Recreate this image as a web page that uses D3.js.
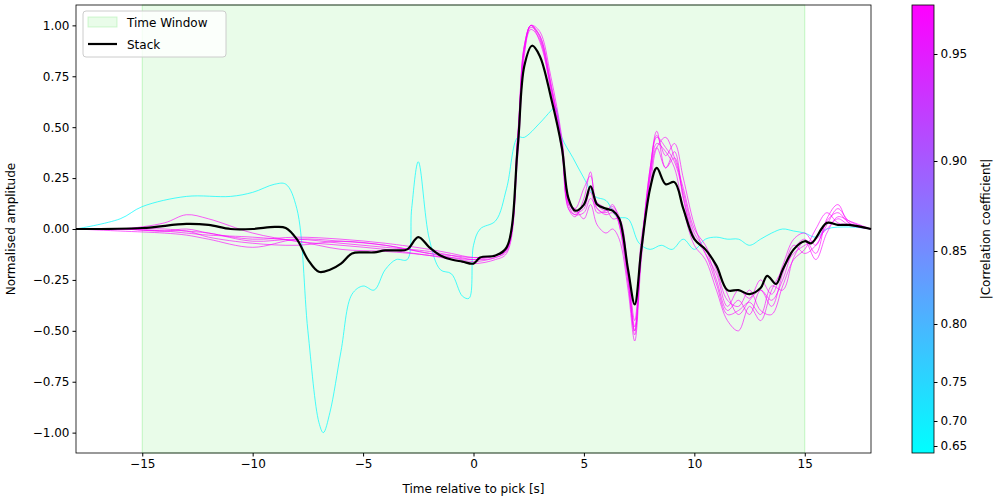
<!DOCTYPE html>
<html><head><meta charset="utf-8">
<script src="https://cdn.jsdelivr.net/npm/d3@7"></script>
<style>body{margin:0;background:#fff}text{font-family:"DejaVu Sans",sans-serif}</style>
</head><body><svg id="c" width="1000" height="500"></svg>
<script>
const stackT=[-18,-15,-13,-12,-11,-10,-9,-8.5,-8,-7.5,-7,-6.5,-6,-5.5,-5,-4.5,-4,-3.5,-3,-2.5,-2,-1.5,-1,-0.5,0,0.3,1,1.5,2,2.3,2.65,3,3.5,4,4.3,4.6,5,5.3,5.6,6,6.3,6.6,7,7.3,7.6,8,8.3,8.7,9.1,9.5,10,10.5,11,11.5,12,12.5,13,13.3,13.7,14,14.5,15,15.3,16,16.5,17,18];
const stackV=[0,0.005,0.025,0.02,0.0,0.0,0.01,0.005,-0.05,-0.15,-0.21,-0.2,-0.17,-0.12,-0.115,-0.115,-0.105,-0.105,-0.1,-0.04,-0.09,-0.13,-0.15,-0.16,-0.17,-0.14,-0.13,-0.09,0.4,0.8,0.9,0.85,0.65,0.4,0.15,0.09,0.12,0.21,0.12,0.1,0.09,0.05,-0.2,-0.37,-0.1,0.2,0.3,0.22,0.23,0.1,-0.05,-0.1,-0.18,-0.3,-0.3,-0.32,-0.29,-0.23,-0.27,-0.2,-0.1,-0.06,-0.07,0.03,0.02,0.02,0];
const cyanT=[-18,-16,-15,-13,-11,-10,-9,-8.5,-8,-7.5,-7,-6.8,-6.5,-6,-5.5,-5,-4.5,-4,-3.5,-3,-2.8,-2.5,-2,-1.5,-1,-0.5,-0.2,0,0.3,1,1.5,2,2.3,3,3.5,3.7,4,4.5,5,5.5,6,6.5,7,7.5,8,8.5,9,9.5,10,10.5,11,11.5,12,12.5,13,13.5,14,14.5,15,15.5,16,17,18];
const cyanV=[0,0.05,0.11,0.16,0.16,0.18,0.22,0.22,0.1,-0.5,-0.95,-1.0,-0.9,-0.6,-0.32,-0.28,-0.3,-0.2,-0.15,-0.15,0.1,0.33,-0.05,-0.2,-0.22,-0.33,-0.34,-0.08,0.0,0.04,0.2,0.45,0.45,0.52,0.58,0.6,0.45,0.35,0.25,0.16,0.14,0.06,0.05,-0.07,-0.1,-0.08,-0.1,-0.05,-0.1,-0.05,-0.04,-0.05,-0.05,-0.08,-0.05,-0.02,0.0,-0.01,-0.02,-0.04,0.0,0.01,0];
const cyanCorr=0.65;
const magT=[-18,-16,-14,-13,-12,-10,-8,-6,-4,-2,-1,0,1,1.5,2,2.3,2.6,3,3.5,4,4.3,4.6,5,5.3,5.6,6,6.3,6.6,7,7.3,7.6,8,8.3,8.7,9.1,9.5,10,10.5,11,11.5,12,12.5,13,13.5,14,14.5,15,15.5,16,16.5,17,18];
const mag1=[0,0,0.03,0.07,0.05,-0.02,-0.06,-0.08,-0.1,-0.13,-0.14,-0.15,-0.13,-0.1,0.45,0.9,1.0,0.92,0.7,0.4,0.1,0.06,0.15,0.28,0.1,0.08,0.1,0.02,-0.25,-0.5,-0.1,0.3,0.48,0.3,0.35,0.15,-0.05,-0.1,-0.25,-0.4,-0.35,-0.42,-0.3,-0.35,-0.25,-0.1,-0.05,-0.12,0.05,0.12,0.03,0];
const mag2=[0,-0.01,-0.02,-0.03,-0.05,-0.09,-0.05,-0.06,-0.08,-0.12,-0.14,-0.16,-0.14,-0.11,0.4,0.88,0.99,0.95,0.72,0.42,0.12,0.1,0.05,0.12,0.02,-0.02,0.0,-0.05,-0.3,-0.55,-0.15,0.25,0.42,0.38,0.3,0.1,-0.08,-0.15,-0.3,-0.45,-0.5,-0.38,-0.45,-0.3,-0.2,-0.12,-0.08,-0.05,0.0,0.05,0.02,0];
const mag3=[0,0.0,-0.01,-0.02,-0.03,-0.04,-0.06,-0.1,-0.11,-0.13,-0.15,-0.17,-0.15,-0.12,0.35,0.85,1.0,0.97,0.75,0.45,0.15,0.08,0.1,0.2,0.13,0.1,0.05,0.05,-0.2,-0.45,-0.05,0.2,0.4,0.45,0.35,0.2,0.0,-0.08,-0.2,-0.35,-0.38,-0.3,-0.4,-0.42,-0.28,-0.15,-0.1,0.0,0.08,0.03,0.02,0];
const mag4=[0,0.0,0.0,-0.01,-0.02,-0.06,-0.05,-0.07,-0.09,-0.11,-0.13,-0.15,-0.14,-0.1,0.42,0.87,0.98,0.93,0.68,0.4,0.12,0.07,0.12,0.18,0.08,0.09,0.11,0.06,-0.22,-0.48,-0.12,0.28,0.45,0.4,0.33,0.18,-0.02,-0.1,-0.18,-0.32,-0.42,-0.35,-0.3,-0.38,-0.22,-0.08,-0.12,-0.08,0.02,0.1,0.04,0],
mag5=[0,0.0,-0.01,0.0,-0.02,-0.05,-0.04,-0.05,-0.07,-0.1,-0.12,-0.14,-0.13,-0.1,0.44,0.89,1.0,0.94,0.7,0.38,0.1,0.07,0.08,0.15,0.1,0.07,0.08,0.03,-0.24,-0.52,-0.1,0.3,0.46,0.36,0.42,0.25,0.02,-0.12,-0.22,-0.38,-0.3,-0.34,-0.25,-0.32,-0.18,-0.05,-0.02,-0.08,0.04,0.08,0.03,0];
const mag6=[0,0.0,-0.01,-0.01,-0.04,-0.07,-0.08,-0.06,-0.08,-0.12,-0.13,-0.14,-0.13,-0.1,0.46,0.9,1.0,0.95,0.71,0.43,0.13,0.1,0.2,0.26,0.12,0.09,0.12,0.02,-0.27,-0.5,-0.1,0.26,0.4,0.3,0.38,0.16,-0.04,-0.12,-0.27,-0.42,-0.4,-0.36,-0.42,-0.28,-0.3,-0.14,-0.06,-0.15,-0.02,0.06,0.04,0];
const magSeries=[mag1,mag2,mag3,mag4,mag5,mag6];
const magCorr=[0.975,0.97,0.972,0.974,0.973,0.971];
const xTicks=[-15,-10,-5,0,5,10,15];
const yTicks=[-1.0,-0.75,-0.5,-0.25,0,0.25,0.5,0.75,1.0];
const cbTicks=[0.65,0.70,0.75,0.80,0.85,0.90,0.95];
const cbTickPx=[446,421,382,324,251,161,54];
const windowRange=[-15,15];

const svg=d3.select("#c");
const L=76,R=871,T=5,B=453;
const x=d3.scaleLinear().domain([-18,18]).range([L,R]);
const y=d3.scaleLinear().domain([-1.1,1.1]).range([B,T]);
// colorbar scale (nonlinear norm) piecewise
const cbTop=5,cbBot=453;
const cbScale=d3.scaleLinear().domain([0.64,...cbTicks,0.975]).range([452,...cbTickPx,5]);
const frac=v=>(cbBot-cbScale(v))/(cbBot-cbTop);
const cool=t=>d3.rgb(255*t,255*(1-t),255).toString();

svg.append("rect").attr("x",x(windowRange[0])).attr("y",T).attr("width",x(windowRange[1])-x(windowRange[0])).attr("height",B-T)
 .attr("fill","rgb(144,238,144)").attr("fill-opacity",0.2).attr("stroke","rgb(144,238,144)").attr("stroke-opacity",0.5).attr("stroke-width",1);
const line=(ts)=>d3.line().x((d,i)=>x(ts[i])).y(d=>y(d)).curve(d3.curveCatmullRom.alpha(0.5));
const g=svg.append("g");
g.append("path").attr("d",line(cyanT)(cyanV)).attr("fill","none").attr("stroke",cool(frac(cyanCorr))).attr("stroke-width",0.8).attr("opacity",0.9);
magSeries.forEach((s,i)=>g.append("path").attr("d",line(magT)(s)).attr("fill","none").attr("stroke",cool(frac(magCorr[i]))).attr("stroke-width",0.8).attr("opacity",0.8));
g.append("path").attr("d",line(stackT)(stackV)).attr("fill","none").attr("stroke","#000").attr("stroke-width",2.2);

svg.append("rect").attr("x",L).attr("y",T).attr("width",R-L).attr("height",B-T).attr("fill","none").attr("stroke","#000").attr("stroke-width",0.8);
const xa=svg.append("g").attr("transform",`translate(0,${B})`).call(d3.axisBottom(x).tickValues(xTicks).tickSize(3.5).tickFormat(d=>d<0?"−"+Math.abs(d):d));
const ya=svg.append("g").attr("transform",`translate(${L},0)`).call(d3.axisLeft(y).tickValues(yTicks).tickSize(3.5).tickFormat(d=>(d<0?"−":"")+Math.abs(d).toFixed(2)));
[xa,ya].forEach(a=>{a.select(".domain").remove();a.selectAll("text").attr("font-size",12).attr("fill","#000");});
svg.append("text").attr("x",(L+R)/2).attr("y",493).attr("text-anchor","middle").attr("font-size",12).text("Time relative to pick [s]");
svg.append("text").attr("transform",`translate(15,${(T+B)/2}) rotate(-90)`).attr("text-anchor","middle").attr("font-size",12).text("Normalised amplitude");

// legend
const lg=svg.append("g");
lg.append("rect").attr("x",83).attr("y",11).attr("width",143).attr("height",46).attr("rx",3).attr("fill","#fff").attr("fill-opacity",0.8).attr("stroke","#ccc");
lg.append("rect").attr("x",88).attr("y",17).attr("width",29).attr("height",10).attr("fill","rgb(144,238,144)").attr("fill-opacity",0.2).attr("stroke","rgb(144,238,144)").attr("stroke-opacity",0.4);
lg.append("text").attr("x",127).attr("y",27).attr("font-size",12).text("Time Window");
lg.append("line").attr("x1",88).attr("x2",117).attr("y1",44).attr("y2",44).attr("stroke","#000").attr("stroke-width",2.2);
lg.append("text").attr("x",127).attr("y",49).attr("font-size",12).text("Stack");

// colorbar
const defs=svg.append("defs");
const gr=defs.append("linearGradient").attr("id","cb").attr("x1",0).attr("y1",1).attr("x2",0).attr("y2",0);
gr.append("stop").attr("offset","0%").attr("stop-color",cool(0));
gr.append("stop").attr("offset","100%").attr("stop-color",cool(1));
svg.append("rect").attr("x",912).attr("y",cbTop).attr("width",22).attr("height",cbBot-cbTop).attr("fill","url(#cb)").attr("stroke","#000").attr("stroke-width",0.8);
const ca=svg.append("g").attr("transform","translate(934,0)").call(d3.axisRight(cbScale).tickValues(cbTicks).tickSize(3.5).tickFormat(d3.format(".2f")));
ca.select(".domain").remove();ca.selectAll("text").attr("font-size",12);
svg.append("text").attr("transform",`translate(990,${(cbTop+cbBot)/2}) rotate(-90)`).attr("text-anchor","middle").attr("font-size",12).text("|Correlation coefficient|");
</script></body></html>
